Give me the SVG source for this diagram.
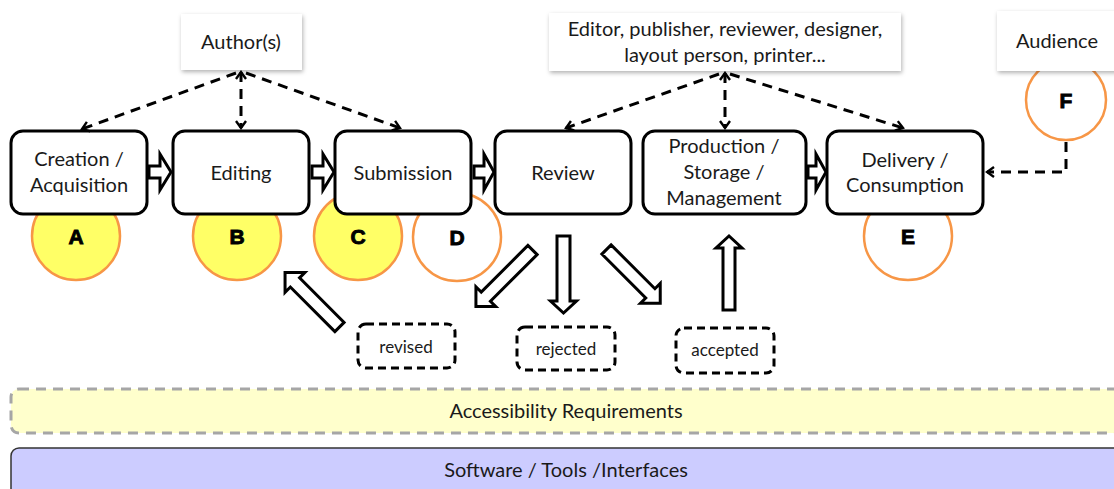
<svg xmlns="http://www.w3.org/2000/svg" width="1114" height="489" viewBox="0 0 1114 489">
<style>
text{font-family:Lato,"Liberation Sans",sans-serif;fill:#1a1a1a;text-anchor:middle}
.t{font-size:20px}
.s{font-size:17px}
.L{font-family:"Liberation Sans",Arial,sans-serif;font-weight:bold;font-size:21px;fill:#000;stroke:#000;stroke-width:0.9}
.box{fill:#fff;stroke:#000;stroke-width:3}
.ext{fill:#fff;stroke:none}
.circY{fill:#FFFF66;stroke:#F79646;stroke-width:2.5}
.circW{fill:#fff;stroke:#F79646;stroke-width:2.5}
.dl{fill:none;stroke:#000;stroke-width:3;stroke-dasharray:10 7}
.blk{fill:#fff;stroke:#000;stroke-width:3;stroke-linejoin:miter}
.db{fill:#fff;stroke:#000;stroke-width:3;stroke-dasharray:8 5}
</style>
<defs>
<marker id="oa" viewBox="0 0 12 12" refX="10" refY="6" markerWidth="12" markerHeight="12" markerUnits="userSpaceOnUse" orient="auto-start-reverse">
<polyline points="3,1 10,6 3,11" fill="none" stroke="#000" stroke-width="2.4"/>
</marker>
<filter id="sh" x="-10%" y="-20%" width="125%" height="150%">
<feDropShadow dx="1" dy="2" stdDeviation="2" flood-color="#000" flood-opacity="0.3"/>
</filter>
</defs>

<g id="bars">
<rect x="11" y="389" width="1120" height="44" rx="8" fill="#FFFFCC" stroke="#A6A6A6" stroke-width="3" stroke-dasharray="10 7"/>
<text class="t" x="566" y="418">Accessibility Requirements</text>
<rect x="11" y="448" width="1120" height="60" rx="8" fill="#CCCCFF" stroke="#333" stroke-width="1.5"/>
<text class="t" x="566" y="477">Software / Tools /Interfaces</text>
</g>

<g id="circles">
<g id="circle-A"><circle class="circY" cx="76" cy="236" r="44"/><text class="L" x="76" y="244">A</text></g>
<g id="circle-B"><circle class="circY" cx="237" cy="236" r="44"/><text class="L" x="237" y="244">B</text></g>
<g id="circle-C"><circle class="circY" cx="358" cy="236" r="44"/><text class="L" x="358" y="244">C</text></g>
<g id="circle-D"><circle class="circW" cx="457" cy="237" r="44"/><text class="L" x="457" y="245">D</text></g>
<g id="circle-E"><circle class="circW" cx="908" cy="236" r="44"/><text class="L" x="908" y="244">E</text></g>
<g id="circle-F"><circle class="circW" cx="1066" cy="100" r="40"/><text class="L" x="1066" y="108">F</text></g>
</g>

<g id="actors">
<g id="author"><rect class="ext" filter="url(#sh)" x="181" y="14" width="121" height="56"/><text class="t" x="241" y="49">Author(s)</text></g>
<g id="editor"><rect class="ext" filter="url(#sh)" x="549" y="13" width="352" height="58"/><text class="t" x="725" y="36">Editor, publisher, reviewer, designer,</text><text class="t" x="725" y="62">layout person, printer...</text></g>
<g id="audience"><rect class="ext" filter="url(#sh)" x="997" y="11" width="130" height="60"/><text class="t" x="1057" y="48">Audience</text></g>
</g>

<g id="stages">
<g id="creation"><rect class="box" x="11" y="131" width="136" height="83" rx="12"/><text class="t" x="79" y="166">Creation /</text><text class="t" x="79" y="192">Acquisition</text></g>
<g id="editing"><rect class="box" x="173" y="131" width="136" height="83" rx="12"/><text class="t" x="241" y="180">Editing</text></g>
<g id="submission"><rect class="box" x="335" y="131" width="136" height="83" rx="12"/><text class="t" x="403" y="180">Submission</text></g>
<g id="review"><rect class="box" x="495" y="131" width="136" height="83" rx="12"/><text class="t" x="563" y="180">Review</text></g>
<g id="production"><rect class="box" x="643" y="131" width="163" height="83" rx="12"/><text class="t" x="724" y="153">Production /</text><text class="t" x="724" y="179">Storage /</text><text class="t" x="724" y="205">Management</text></g>
<g id="delivery"><rect class="box" x="827" y="131" width="156" height="83" rx="12"/><text class="t" x="905" y="167">Delivery /</text><text class="t" x="905" y="192">Consumption</text></g>
</g>

<g id="outcomes">
<g id="revised"><rect class="db" x="358" y="324" width="97" height="44" rx="8"/><text class="s" x="406" y="353">revised</text></g>
<g id="rejected"><rect class="db" x="517" y="327" width="98" height="43" rx="8"/><text class="s" x="566" y="355">rejected</text></g>
<g id="accepted"><rect class="db" x="676" y="328" width="98" height="45" rx="8"/><text class="s" x="725" y="356">accepted</text></g>
</g>

<g id="connectors">
<line class="dl" x1="236" y1="73" x2="82" y2="129" marker-end="url(#oa)"/>
<line class="dl" x1="241" y1="72" x2="241" y2="128" marker-start="url(#oa)" marker-end="url(#oa)"/>
<line class="dl" x1="246" y1="73" x2="400" y2="128" marker-end="url(#oa)"/>
<line class="dl" x1="719" y1="74" x2="566" y2="128" marker-end="url(#oa)"/>
<line class="dl" x1="725" y1="73" x2="725" y2="128" marker-start="url(#oa)" marker-end="url(#oa)"/>
<line class="dl" x1="730" y1="74" x2="903" y2="128" marker-end="url(#oa)"/>
<polyline class="dl" points="1066,142 1066,172 987,172" marker-end="url(#oa)"/>

<path class="blk" d="M149,166 H160 V154 L171,172 L160,190 V178 H149 Z"/>
<path class="blk" d="M312,166 H323 V154 L334,172 L323,190 V178 H312 Z"/>
<path class="blk" d="M474,166 H484 V154 L494,172 L484,190 V178 H474 Z"/>
<path class="blk" d="M808,166 H816 V154 L826,172 L816,190 V178 H808 Z"/>

<path class="blk" d="M0,-6.5 H63 V-14 L77,0 L63,14 V6.5 H0 Z" transform="translate(339.5,327) rotate(-135)"/>
<path class="blk" d="M0,-6.5 H66 V-14 L80,0 L66,14 V6.5 H0 Z" transform="translate(532.5,250) rotate(135)"/>
<path class="blk" d="M0,-6.5 H65 V-13 L77,0 L65,13 V6.5 H0 Z" transform="translate(563.5,236) rotate(90)"/>
<path class="blk" d="M0,-6.5 H62 V-14 L76,0 L62,14 V6.5 H0 Z" transform="translate(606.5,249.5) rotate(45)"/>
<path class="blk" d="M0,-6 H62 V-13 L74,0 L62,13 V6 H0 Z" transform="translate(729,310) rotate(-90)"/>
</g>
</svg>
